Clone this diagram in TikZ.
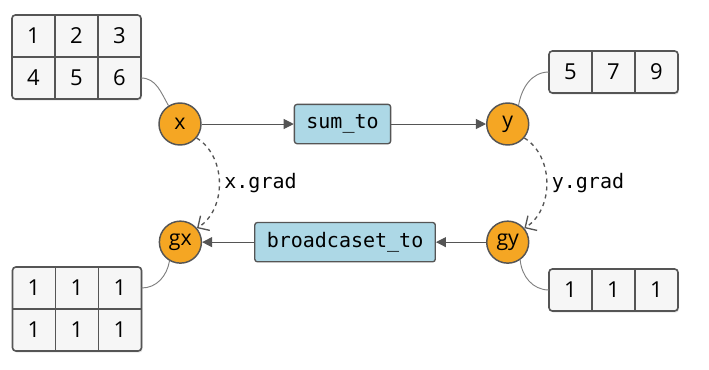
\documentclass[tikz,border=0pt]{standalone}
\usepackage{fontspec}
\setmainfont{Open Sans}
\newfontfamily\codefont{DejaVu Sans Mono}
\usetikzlibrary{arrows.meta, positioning, fit, backgrounds, shadows}

\definecolor{varfill}{HTML}{F5A623}
\definecolor{opfill}{HTML}{ADD8E6}
\definecolor{cellfill}{HTML}{F6F6F6}
\definecolor{edge}{HTML}{555555}

\begin{document}
\begin{tikzpicture}[
    x=0.75pt, y=-0.75pt,
    var/.style={circle, draw=edge, line width=1.1pt, fill=varfill, minimum size=31.5pt, inner sep=0pt, font=\fontsize{16}{16}\selectfont},
    op/.style={draw=edge, line width=1pt, fill=opfill, rounded corners=2pt, minimum height=29.5pt, inner xsep=9pt, font=\codefont\fontsize{15}{15}\selectfont},
    cell/.style={minimum width=32.25pt, minimum height=31.5pt, inner sep=0pt, outer sep=0pt, font=\fontsize{16.5}{16.5}\selectfont},
    frame/.style={draw=edge, line width=1.2pt, fill=cellfill, rounded corners=2.5pt, inner sep=0pt, drop shadow={opacity=0.2, shadow xshift=0.8pt, shadow yshift=-1.2pt}},
    grid/.style={draw=edge, line width=1.3pt},
    flow/.style={-{Triangle[length=7.5pt, width=7.5pt]}, draw=edge, line width=0.75pt},
    grad/.style={-{Straight Barb[length=6.5pt, width=13pt]}, dashed, draw=edge, line width=1pt},
    link/.style={draw=gray, line width=0.7pt},
    lbl/.style={font=\codefont\fontsize{15}{15}\selectfont},
]
\useasboundingbox (0,0) rectangle (709,369);

% forward and backward graph
\node[var] (x) at (180,124) {x};
\node[op, right=69pt of x] (sum) {sum\_to};
\node[var, right=71pt of sum] (y) {y};
\node[var, below=56pt of y] (gy) {gy};
\node[op, left=37.5pt of gy] (bcast) {broadcaset\_to};
\node[var, left=39pt of bcast] (gx) {gx};

\draw[flow] (x) -- (sum);
\draw[flow] (sum) -- (y);
\draw[flow] (gy) -- (bcast);
\draw[flow] (bcast) -- (gx);

\draw[grad] (x.-40) to[bend left=58] node[lbl, right] {x.grad} (gx.40);
\draw[grad] (y.-40) to[bend left=58] node[lbl, right] {y.grad} (gy.40);

% arrays
\foreach \v [count=\i] in {1,2,3}
  \node[cell] (xa\i) at ({-9.5+43*\i},36) {\v};
\foreach \v [count=\i] in {4,5,6}
  \node[cell] (xb\i) at ({-9.5+43*\i},78) {\v};
\foreach \v [count=\i] in {5,7,9}
  \node[cell] (ya\i) at ({527.5+43*\i},72) {\v};
\foreach \i in {1,2,3} {
  \node[cell] (gxa\i) at ({-9+43*\i},288) {1};
  \node[cell] (gxb\i) at ({-9+43*\i},330) {1};
  \node[cell] (gya\i) at ({527.5+43*\i},290) {1};
}

\begin{scope}[on background layer]
  \node[frame, fit=(xa1)(xb3)] {};
  \node[frame, fit=(ya1)(ya3)] {};
  \node[frame, fit=(gxa1)(gxb3)] {};
  \node[frame, fit=(gya1)(gya3)] {};
\end{scope}

\draw[grid] (xa1.north east) -- (xb1.south east) (xa2.north east) -- (xb2.south east)
  (xa1.south west) -- (xa3.south east);
\draw[grid] (ya1.north east) -- (ya1.south east) (ya2.north east) -- (ya2.south east);
\draw[grid] (gxa1.north east) -- (gxb1.south east) (gxa2.north east) -- (gxb2.south east)
  (gxa1.south west) -- (gxa3.south east);
\draw[grid] (gya1.north east) -- (gya1.south east) (gya2.north east) -- (gya2.south east);

% arrays to their variables
\draw[link] (xb3.east) to[out=0, in=120] (x.122);
\draw[link] (y.60) to[out=80, in=180] (ya1.west);
\draw[link] (gx.-120) to[out=-100, in=0] (gxa3.east);
\draw[link] (gy.-55) to[out=-85, in=180] (gya1.west);
\end{tikzpicture}
\end{document}
